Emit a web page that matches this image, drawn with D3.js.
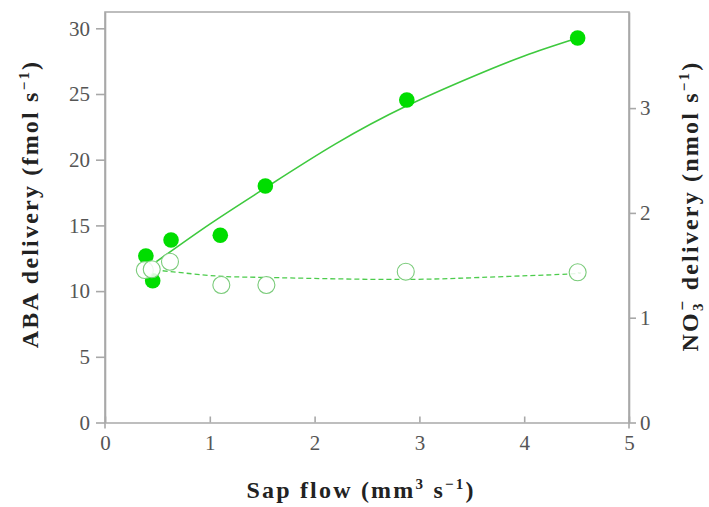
<!DOCTYPE html>
<meta charset="utf-8">
<style>
body { margin: 0; background: #fff; }
svg { display: block; }
.tick-label { font-family: "Liberation Serif", "DejaVu Serif", serif; font-size: 21px; fill: #555; }
.axis-title { font-family: "Liberation Serif", "DejaVu Serif", serif; font-size: 24px; font-weight: bold; fill: #222; letter-spacing: 2.2px; }
</style>
<script src="https://cdn.jsdelivr.net/npm/d3@7"></script>
<body></body>
<script>

// filled circles : ABA delivery (left axis)
var abaFlow = [0.39, 0.455, 0.63, 1.10, 1.53, 2.88, 4.51];
var abaValues = [12.67, 10.79, 13.89, 14.25, 18.0, 24.54, 29.26];
// open circles : nitrate delivery (right axis)
var no3Flow = [0.38, 0.446, 0.62, 1.11, 1.54, 2.87, 4.51];
var no3Values = [1.455, 1.462, 1.534, 1.312, 1.312, 1.439, 1.433];
// fitted curves
var abaFitX = [0.49, 1.0, 1.53, 2.2, 2.88, 3.5, 4.0, 4.51];
var abaFitY = [12.24, 15.1, 17.85, 21.2, 24.1, 26.3, 27.9, 29.26];
var no3FitX = [0.55, 1.06, 1.54, 2.69, 3.58, 4.41, 4.51];
var no3FitY = [1.448, 1.398, 1.384, 1.365, 1.384, 1.416, 1.43];

var xTicks = [0, 1, 2, 3, 4, 5];
var leftTicks = [0, 5, 10, 15, 20, 25, 30];
var rightTicks = [0, 1, 2, 3];

var width = 709, height = 507;
var plotLeft = 105, plotRight = 629, plotTop = 12, plotBottom = 422.5;

var x = d3.scaleLinear().domain([0, 5]).range([plotLeft, plotRight]);
var yL = d3.scaleLinear().domain([0, 31.24]).range([plotBottom, plotTop]);
var yR = d3.scaleLinear().domain([0, 3.917]).range([plotBottom, plotTop]);

var svg = d3.select('body').append('svg')
	.attr('width', width)
	.attr('height', height);

var axisColor = '#a8a8a8';
var fmt = d3.format('d');

//frame
svg.append('path')
	.attr('d', 'M' + plotLeft + ',' + (plotBottom + 6) + 'V' + plotTop + 'H' + plotRight + 'V' + (plotBottom + 6))
	.attr('fill', 'none')
	.attr('stroke', axisColor)
	.attr('stroke-width', 1.6);

//axes
var gx = svg.append('g').attr('transform', 'translate(0,' + plotBottom + ')')
	.call(d3.axisBottom(x).tickValues(xTicks).tickFormat(fmt).tickSize(-6).tickPadding(13).tickSizeOuter(0));
var gl = svg.append('g').attr('transform', 'translate(' + plotLeft + ',0)')
	.call(d3.axisLeft(yL).tickValues(leftTicks).tickFormat(fmt).tickSize(9).tickPadding(6).tickSizeOuter(0));
var gr = svg.append('g').attr('transform', 'translate(' + plotRight + ',0)')
	.call(d3.axisRight(yR).tickValues(rightTicks).tickFormat(fmt).tickSize(7).tickPadding(4).tickSizeOuter(0));

[gx, gl, gr].forEach(function(g) {
	g.select('.domain').attr('stroke', axisColor).attr('stroke-width', 1.6);
	g.selectAll('.tick line').attr('stroke', axisColor).attr('stroke-width', 1.6);
	g.selectAll('.tick text').attr('class', 'tick-label').attr('fill', null);
	g.attr('font-family', null).attr('font-size', null);
});

//fitted curves
var abaLine = d3.line()
	.x(function(d, i) { return x(abaFitX[i]); })
	.y(function(d) { return yL(d); })
	.curve(d3.curveNatural);
var no3Line = d3.line()
	.x(function(d, i) { return x(no3FitX[i]); })
	.y(function(d) { return yR(d); })
	.curve(d3.curveNatural);

svg.append('path')
	.attr('d', abaLine(abaFitY))
	.attr('fill', 'none')
	.attr('stroke', '#3ec93e')
	.attr('stroke-width', 1.6);
svg.append('path')
	.attr('d', no3Line(no3FitY))
	.attr('fill', 'none')
	.attr('stroke', '#4ccc4c')
	.attr('stroke-width', 1.3)
	.attr('stroke-dasharray', '5,3');

//points
svg.selectAll('.aba').data(abaValues).enter().append('circle')
	.attr('class', 'aba')
	.attr('cx', function(d, i) { return x(abaFlow[i]); })
	.attr('cy', function(d) { return yL(d); })
	.attr('r', 7.8)
	.attr('fill', '#00dd00');
svg.selectAll('.no3').data(no3Values).enter().append('circle')
	.attr('class', 'no3')
	.attr('cx', function(d, i) { return x(no3Flow[i]); })
	.attr('cy', function(d) { return yR(d); })
	.attr('r', 8.5)
	.attr('fill', 'rgba(255,255,255,0.85)')
	.attr('stroke', '#7acb7a')
	.attr('stroke-width', 1.1);

//titles
var tl = svg.append('text').attr('class', 'axis-title')
	.attr('transform', 'translate(38,204) rotate(-90)')
	.attr('text-anchor', 'middle');
tl.append('tspan').text('ABA delivery (fmol s');
tl.append('tspan').attr('dy', -9).attr('font-size', 15).text('\u22121');
tl.append('tspan').attr('dy', 9).text(')');

var tr = svg.append('text').attr('class', 'axis-title')
	.attr('transform', 'translate(698,206) rotate(-90)')
	.attr('text-anchor', 'middle');
tr.append('tspan').text('NO');
tr.append('tspan').attr('dy', 5).attr('font-size', 15).text('3');
tr.append('tspan').attr('dy', -15).attr('dx', -9).attr('font-size', 17).text('\u2212');
tr.append('tspan').attr('dy', 10).text(' delivery (nmol s');
tr.append('tspan').attr('dy', -9).attr('font-size', 15).text('\u22121');
tr.append('tspan').attr('dy', 9).text(')');

var tb = svg.append('text').attr('class', 'axis-title')
	.attr('x', 361).attr('y', 498)
	.attr('text-anchor', 'middle');
tb.append('tspan').text('Sap flow (mm');
tb.append('tspan').attr('dy', -9).attr('font-size', 15).text('3');
tb.append('tspan').attr('dy', 9).text(' s');
tb.append('tspan').attr('dy', -9).attr('font-size', 15).text('\u22121');
tb.append('tspan').attr('dy', 9).text(')');

</script>
